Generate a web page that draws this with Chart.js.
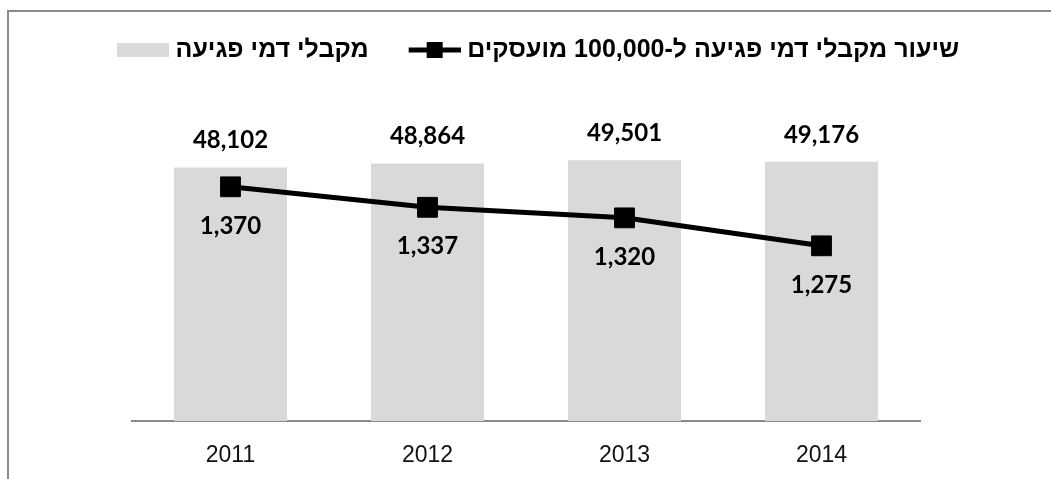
<!DOCTYPE html>
<html><head><meta charset="utf-8">
<script src="https://cdn.jsdelivr.net/npm/chart.js@4"></script>
<style>
html,body{margin:0;padding:0;background:#fff;}
#wrap{position:relative;width:1051px;height:479px;overflow:hidden;}
#frame{position:absolute;left:7px;top:10px;width:1100px;height:500px;border-top:2px solid #8a8a8a;border-left:2px solid #8a8a8a;}
canvas{position:absolute;left:0;top:0;}
</style></head><body>
<div id="wrap"><div id="frame"></div><canvas id="c" width="1051" height="479"></canvas></div>
<script>
const years = ['2011', '2012', '2013', '2014'];
const recipients = [48102, 48864, 49501, 49176];
const ratePer100k = [1370, 1337, 1320, 1275];
const barLabel = 'מקבלי דמי פגיעה';
const lineLabel = 'שיעור מקבלי דמי פגיעה ל-100,000 מועסקים';

Chart.defaults.font.family = "'Liberation Sans', Arial, sans-serif";

const LEGEND_FS = 25;
const ICON_W = 86;
function makeBarIcon(){
  const c = document.createElement('canvas'); c.width = ICON_W + 12; c.height = 24;
  const g = c.getContext('2d'); g.fillStyle = '#d9d9d9';
  g.fillRect(c.width - 52, c.height / 2 - 7, 52, 14); return c;
}
function makeLineIcon(){
  const c = document.createElement('canvas'); c.width = ICON_W + 12; c.height = 24;
  const g = c.getContext('2d'); g.fillStyle = '#000';
  const s = c.width - 52, cy = c.height / 2;
  g.fillRect(s, cy - 2.5, 52, 5);
  g.fillRect(s + 26 - 8, cy - 8, 16, 16); return c;
}
const barIcon = makeBarIcon();
const lineIcon = makeLineIcon();

function fmt(v){ return String(v).replace(/\B(?=(\d{3})+(?!\d))/g, ','); }

const valueLabels = {
  id: 'valueLabels',
  afterDatasetsDraw(chart){
    const ctx = chart.ctx;
    ctx.save();
    ctx.font = "bold 24px Lato, 'Open Sans', sans-serif";
    ctx.fillStyle = '#000';
    ctx.textAlign = 'center';
    ctx.textBaseline = 'middle';
    chart.data.datasets.forEach((ds, di) => {
      const meta = chart.getDatasetMeta(di);
      meta.data.forEach((el, i) => {
        const y = ds.type === 'bar' ? el.y - 27 : el.y + 39;
        ctx.fillText(fmt(ds.data[i]), el.x, y);
      });
    });
    ctx.restore();
  }
};

new Chart(document.getElementById('c'), {
  data: {
    labels: years,
    datasets: [
      { type: 'bar', label: barLabel, data: recipients, yAxisID: 'y', backgroundColor: '#d9d9d9',
        barPercentage: 0.574, categoryPercentage: 1, order: 1 },
      { type: 'line', label: lineLabel, data: ratePer100k, yAxisID: 'y2', borderColor: '#000', borderWidth: 5,
        pointStyle: 'rect', pointRadius: 14, pointBackgroundColor: '#000', pointBorderColor: '#000',
        pointBorderWidth: 1, tension: 0, fill: false, order: 0 }
    ]
  },
  options: {
    responsive: false, animation: false,
    layout: { padding: { left: 77, top: 37.5, right: 0, bottom: 0 } },
    plugins: {
      tooltip: { enabled: false },
      legend: {
        position: 'top', align: 'start', textDirection: 'rtl',
        labels: {
          usePointStyle: true, pointStyleWidth: ICON_W, boxHeight: LEGEND_FS, padding: 0,
          color: '#000', font: { size: LEGEND_FS, weight: 'bold' },
          generateLabels: () => [
            { text: barLabel, pointStyle: barIcon, fillStyle: '#d9d9d9', strokeStyle: 'rgba(0,0,0,0)', lineWidth: 0, hidden: false, datasetIndex: 0, fontColor: '#000' },
            { text: lineLabel, pointStyle: lineIcon, fillStyle: '#000', strokeStyle: 'rgba(0,0,0,0)', lineWidth: 0, hidden: false, datasetIndex: 1, fontColor: '#000' }
          ]
        }
      }
    },
    scales: {
      x: { grid: { display: false, drawTicks: false }, border: { color: '#898989', width: 2 },
           ticks: { color: '#111', font: { size: 23 }, padding: 21 },
           afterFit(s){ s.height = 58; } },
      y: { position: 'left', min: 0, max: 66130, ticks: { display: false }, grid: { display: false, drawTicks: false },
           border: { display: false }, afterFit(s){ s.width = 55; } },
      y2: { position: 'right', min: 993, max: 1554, ticks: { display: false }, grid: { display: false, drawTicks: false },
            border: { display: false }, afterFit(s){ s.width = 131; } }
    }
  },
  plugins: [valueLabels]
});
</script>
</body></html>
